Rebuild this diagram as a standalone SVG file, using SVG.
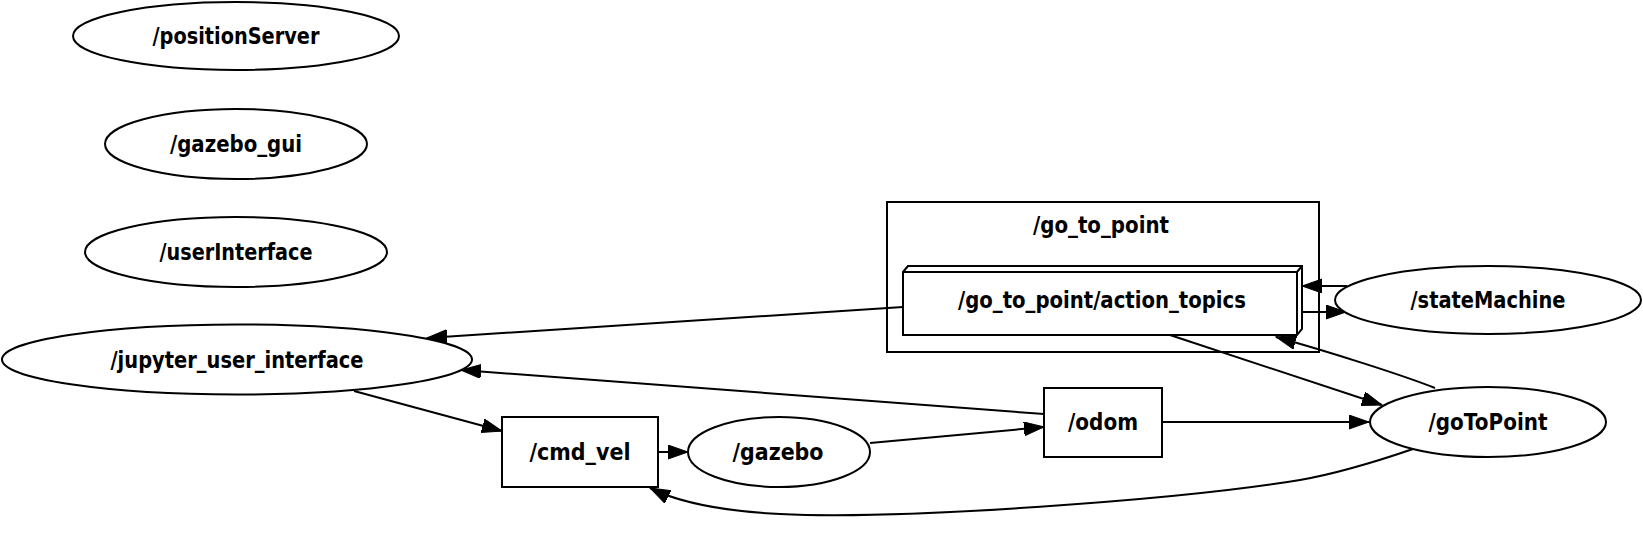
<svg xmlns="http://www.w3.org/2000/svg" width="1643" height="535" viewBox="0 0 1643 535">
<style>
.n{fill:#fff;stroke:#000;stroke-width:2}
.t{font-family:'DejaVu Sans',sans-serif;font-weight:bold;font-size:23px;text-anchor:middle;fill:#000}
.e{fill:none;stroke:#000;stroke-width:2}
</style>
<defs>
<marker id="ah" markerUnits="userSpaceOnUse" markerWidth="22" markerHeight="16" refX="20" refY="7" orient="auto" viewBox="0 0 22 16">
<path d="M0,0 L20,7 L0,14 z" fill="#000" stroke="#000" stroke-width="1"/>
</marker>
</defs>
<rect width="1643" height="535" fill="#fff"/>
<g id="cluster_go_to_point">
<rect x="887" y="202" width="432" height="150" fill="none" stroke="#000" stroke-width="2"/>
<text class="t" x="1101" y="233" textLength="136" lengthAdjust="spacingAndGlyphs">/go_to_point</text>
</g>
<g id="edges">
<path class="e" d="M903,307 L427,338" marker-end="url(#ah)"/>
<path class="e" d="M1044,414 L461,370" marker-end="url(#ah)"/>
<path class="e" d="M354,391 L502,431" marker-end="url(#ah)"/>
<path class="e" d="M658,452 L688,452" marker-end="url(#ah)"/>
<path class="e" d="M870,443 L1044,427" marker-end="url(#ah)"/>
<path class="e" d="M1162,422 L1369,422" marker-end="url(#ah)"/>
<path class="e" d="M1170,335 L1382,405" marker-end="url(#ah)"/>
<path class="e" d="M1435,388 C1405,376 1330,352 1276,337" marker-end="url(#ah)"/>
<path class="e" d="M1347,286 L1302,286" marker-end="url(#ah)"/>
<path class="e" d="M1302,312 L1346,312" marker-end="url(#ah)"/>
<path class="e" d="M1413,449 C1375,462 1340,473 1300,480 C1180,500 900,520 780,514 C720,511 680,503 650,488" marker-end="url(#ah)"/>
</g>
<g id="positionServer"><ellipse class="n" cx="236" cy="36" rx="163" ry="34"/><text class="t" x="236" y="44" textLength="167" lengthAdjust="spacingAndGlyphs">/positionServer</text></g>
<g id="gazebo_gui"><ellipse class="n" cx="236" cy="144" rx="131" ry="35"/><text class="t" x="236" y="152" textLength="132" lengthAdjust="spacingAndGlyphs">/gazebo_gui</text></g>
<g id="userInterface"><ellipse class="n" cx="236" cy="252" rx="151" ry="35"/><text class="t" x="236" y="260" textLength="153" lengthAdjust="spacingAndGlyphs">/userInterface</text></g>
<g id="jupyter_user_interface"><ellipse class="n" cx="237" cy="359.5" rx="235" ry="35"/><text class="t" x="237" y="367.5" textLength="253" lengthAdjust="spacingAndGlyphs">/jupyter_user_interface</text></g>
<g id="cmd_vel"><rect class="n" x="502" y="417" width="156" height="70"/><text class="t" x="580" y="460" textLength="101" lengthAdjust="spacingAndGlyphs">/cmd_vel</text></g>
<g id="gazebo"><ellipse class="n" cx="779" cy="452" rx="91" ry="35"/><text class="t" x="778" y="460" textLength="91" lengthAdjust="spacingAndGlyphs">/gazebo</text></g>
<g id="odom"><rect class="n" x="1044" y="388" width="118" height="69"/><text class="t" x="1103" y="430" textLength="70" lengthAdjust="spacingAndGlyphs">/odom</text></g>
<g id="action_topics">
<path class="n" d="M903,272 L908,266 L1302,266 L1302,329 L1297,335 L903,335 z"/>
<path fill="none" stroke="#000" stroke-width="2" d="M903,272 L1297,272 L1297,335 M1297,272 L1302,266"/>
<text class="t" x="1102" y="308" textLength="288" lengthAdjust="spacingAndGlyphs">/go_to_point/action_topics</text>
</g>
<g id="stateMachine"><ellipse class="n" cx="1488" cy="300" rx="153" ry="34"/><text class="t" x="1488" y="308" textLength="155" lengthAdjust="spacingAndGlyphs">/stateMachine</text></g>
<g id="goToPoint"><ellipse class="n" cx="1488" cy="422" rx="118" ry="35"/><text class="t" x="1488" y="430" textLength="119" lengthAdjust="spacingAndGlyphs">/goToPoint</text></g>
</svg>
